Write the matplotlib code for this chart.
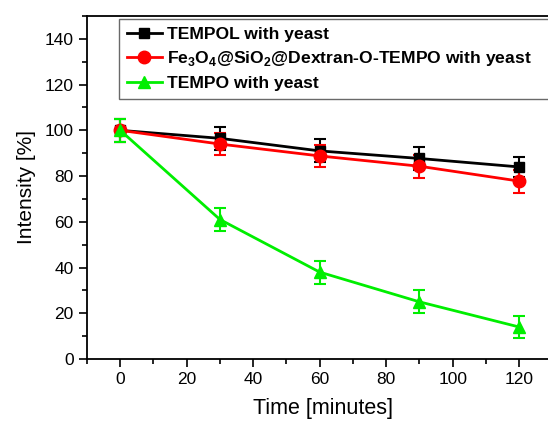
import matplotlib
matplotlib.use("Agg")
import matplotlib.pyplot as plt
import numpy as np

plt.rcParams['font.family'] = ['Liberation Sans', 'DejaVu Sans']
plt.rcParams['mathtext.fontset'] = 'custom'
plt.rcParams['mathtext.rm'] = 'Liberation Sans'
plt.rcParams['mathtext.bf'] = 'Liberation Sans:bold'

time = [0, 30, 60, 90, 120]
tempol = [100, 96.5, 91, 87.7, 84]
tempol_err = [5, 5, 5, 5, 4.5]
fe_tempo = [100, 94, 88.8, 84.3, 77.8]
fe_err = [5, 5, 5, 5, 5]
tempo = [100, 61, 38, 25, 14]
tempo_err = [5, 5, 5, 5, 5]

labels = ['TEMPOL with yeast',
          r'Fe$_\mathbf{3}$O$_\mathbf{4}$@SiO$_\mathbf{2}$@Dextran-O-TEMPO with yeast',
          'TEMPO with yeast']

fig = plt.figure(figsize=(5.48, 4.26), dpi=100)
# right edge of the frame is cut off in the original
ax = fig.add_axes([87/548, 1-359/426, 472/548, 343/426])
ax.set_xlim(-10, 132)

e1 = ax.errorbar(time, tempol, yerr=tempol_err, color='black', marker='s', ms=7,
                 lw=2, capsize=4, capthick=1.5, elinewidth=1.5, zorder=3)
e2 = ax.errorbar(time, fe_tempo, yerr=fe_err, color='#ff0000', marker='o', ms=9,
                 lw=2, capsize=4, capthick=1.5, elinewidth=1.5, zorder=3)
e3 = ax.errorbar(time, tempo, yerr=tempo_err, color='#00ee00', marker='^', ms=9,
                 lw=2, capsize=4, capthick=1.5, elinewidth=1.5, zorder=3)

ax.set_ylim(0, 150)
ax.set_xticks(np.arange(0, 121, 20))
ax.set_xticks(np.arange(-10, 131, 10), minor=True)
ax.set_yticks(np.arange(0, 141, 20))
ax.set_yticks(np.arange(0, 151, 10), minor=True)
ax.tick_params(which='major', direction='out', length=6, width=1.2, labelsize=12.5)
ax.tick_params(which='minor', direction='out', length=3.5, width=1.2)
for s in ax.spines.values():
    s.set_linewidth(1.3)

ax.set_xlabel('Time [minutes]', fontsize=15.5, labelpad=8)
ax.set_ylabel('Intensity [%]', fontsize=15, labelpad=6)

handles = [e1.lines[0], e2.lines[0], e3.lines[0]]
leg = ax.legend(handles, labels, loc='upper left', mode='expand',
                bbox_to_anchor=(119/548, 1-19/426, 1.0, 0.0),
                bbox_transform=fig.transFigure, prop={'weight': 'bold', 'size': 12.6},
                frameon=True, fancybox=False, edgecolor='#444444', handlelength=2.0,
                handletextpad=0.3, labelspacing=0.42, borderpad=0.45,
                borderaxespad=0)
leg.get_frame().set_linewidth(1.0)

fig.savefig('out.png', dpi=100)
